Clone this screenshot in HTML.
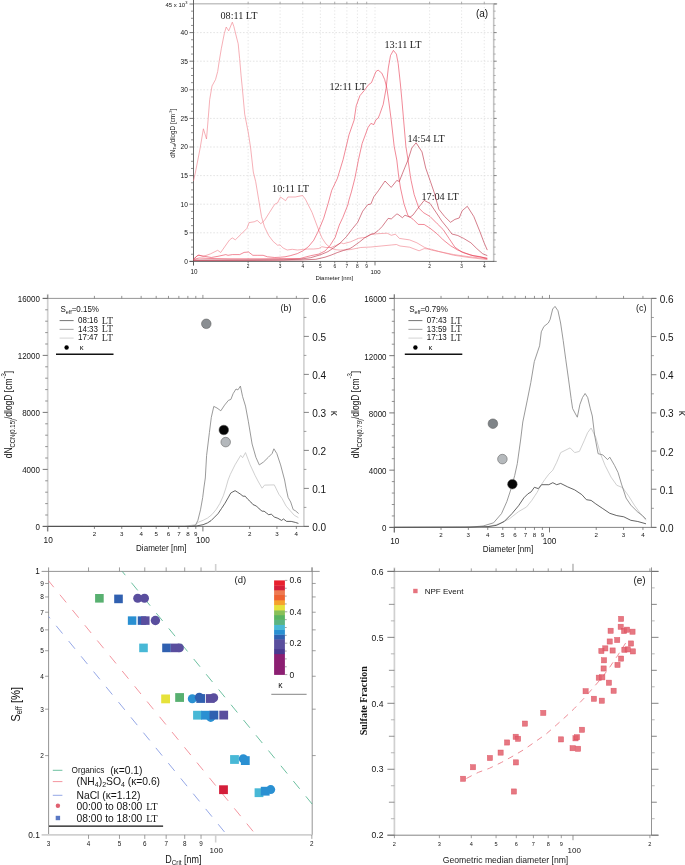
<!DOCTYPE html>
<html><head><meta charset="utf-8"><style>
html,body{margin:0;padding:0;background:#fff;}
body{width:685px;height:865px;overflow:hidden;font-family:"Liberation Sans",sans-serif;}
svg{display:block;will-change:transform;}
</style></head><body>
<svg width="685" height="865" viewBox="0 0 685 865">
<rect width="685" height="865" fill="#fff"/>
<line x1="193.5" y1="232.8" x2="493.7" y2="232.8" stroke="#d8d8d8" stroke-width="0.7" stroke-dasharray="1.6 1.7"/>
<line x1="193.5" y1="204.2" x2="493.7" y2="204.2" stroke="#d8d8d8" stroke-width="0.7" stroke-dasharray="1.6 1.7"/>
<line x1="193.5" y1="175.6" x2="493.7" y2="175.6" stroke="#d8d8d8" stroke-width="0.7" stroke-dasharray="1.6 1.7"/>
<line x1="193.5" y1="147" x2="493.7" y2="147" stroke="#d8d8d8" stroke-width="0.7" stroke-dasharray="1.6 1.7"/>
<line x1="193.5" y1="118.4" x2="493.7" y2="118.4" stroke="#d8d8d8" stroke-width="0.7" stroke-dasharray="1.6 1.7"/>
<line x1="193.5" y1="89.8" x2="493.7" y2="89.8" stroke="#d8d8d8" stroke-width="0.7" stroke-dasharray="1.6 1.7"/>
<line x1="193.5" y1="61.2" x2="493.7" y2="61.2" stroke="#d8d8d8" stroke-width="0.7" stroke-dasharray="1.6 1.7"/>
<line x1="193.5" y1="32.6" x2="493.7" y2="32.6" stroke="#d8d8d8" stroke-width="0.7" stroke-dasharray="1.6 1.7"/>
<line x1="248.14" y1="3.7" x2="248.14" y2="261.4" stroke="#d8d8d8" stroke-width="0.7" stroke-dasharray="1.2 2.1"/>
<line x1="280.1" y1="3.7" x2="280.1" y2="261.4" stroke="#d8d8d8" stroke-width="0.7" stroke-dasharray="1.2 2.1"/>
<line x1="302.77" y1="3.7" x2="302.77" y2="261.4" stroke="#d8d8d8" stroke-width="0.7" stroke-dasharray="1.2 2.1"/>
<line x1="320.36" y1="3.7" x2="320.36" y2="261.4" stroke="#d8d8d8" stroke-width="0.7" stroke-dasharray="1.2 2.1"/>
<line x1="334.73" y1="3.7" x2="334.73" y2="261.4" stroke="#d8d8d8" stroke-width="0.7" stroke-dasharray="1.2 2.1"/>
<line x1="346.89" y1="3.7" x2="346.89" y2="261.4" stroke="#d8d8d8" stroke-width="0.7" stroke-dasharray="1.2 2.1"/>
<line x1="357.41" y1="3.7" x2="357.41" y2="261.4" stroke="#d8d8d8" stroke-width="0.7" stroke-dasharray="1.2 2.1"/>
<line x1="366.7" y1="3.7" x2="366.7" y2="261.4" stroke="#d8d8d8" stroke-width="0.7" stroke-dasharray="1.2 2.1"/>
<line x1="375" y1="3.7" x2="375" y2="261.4" stroke="#d8d8d8" stroke-width="0.7" stroke-dasharray="1.2 2.1"/>
<line x1="429.64" y1="3.7" x2="429.64" y2="261.4" stroke="#d8d8d8" stroke-width="0.7" stroke-dasharray="1.2 2.1"/>
<line x1="461.6" y1="3.7" x2="461.6" y2="261.4" stroke="#d8d8d8" stroke-width="0.7" stroke-dasharray="1.2 2.1"/>
<line x1="484.27" y1="3.7" x2="484.27" y2="261.4" stroke="#d8d8d8" stroke-width="0.7" stroke-dasharray="1.2 2.1"/>
<line x1="193.5" y1="3.7" x2="497.2" y2="3.7" stroke="#c4c4c4" stroke-width="1.6" />
<line x1="493.7" y1="3.7" x2="493.7" y2="261.4" stroke="#c4c4c4" stroke-width="1.6" />
<line x1="193.5" y1="0" x2="193.5" y2="265.4" stroke="#555" stroke-width="0.9" />
<line x1="189.5" y1="261.4" x2="494.2" y2="261.4" stroke="#555" stroke-width="0.9" />
<line x1="189.5" y1="261.4" x2="193.5" y2="261.4" stroke="#555" stroke-width="0.8" />
<line x1="493.7" y1="261.4" x2="496.7" y2="261.4" stroke="#666" stroke-width="0.8" />
<line x1="191" y1="254.25" x2="193.5" y2="254.25" stroke="#666" stroke-width="0.7" />
<line x1="493.7" y1="254.25" x2="495.7" y2="254.25" stroke="#888" stroke-width="0.6" />
<line x1="191" y1="247.1" x2="193.5" y2="247.1" stroke="#666" stroke-width="0.7" />
<line x1="493.7" y1="247.1" x2="495.7" y2="247.1" stroke="#888" stroke-width="0.6" />
<line x1="191" y1="239.95" x2="193.5" y2="239.95" stroke="#666" stroke-width="0.7" />
<line x1="493.7" y1="239.95" x2="495.7" y2="239.95" stroke="#888" stroke-width="0.6" />
<line x1="189.5" y1="232.8" x2="193.5" y2="232.8" stroke="#555" stroke-width="0.8" />
<line x1="493.7" y1="232.8" x2="496.7" y2="232.8" stroke="#666" stroke-width="0.8" />
<line x1="191" y1="225.65" x2="193.5" y2="225.65" stroke="#666" stroke-width="0.7" />
<line x1="493.7" y1="225.65" x2="495.7" y2="225.65" stroke="#888" stroke-width="0.6" />
<line x1="191" y1="218.5" x2="193.5" y2="218.5" stroke="#666" stroke-width="0.7" />
<line x1="493.7" y1="218.5" x2="495.7" y2="218.5" stroke="#888" stroke-width="0.6" />
<line x1="191" y1="211.35" x2="193.5" y2="211.35" stroke="#666" stroke-width="0.7" />
<line x1="493.7" y1="211.35" x2="495.7" y2="211.35" stroke="#888" stroke-width="0.6" />
<line x1="189.5" y1="204.2" x2="193.5" y2="204.2" stroke="#555" stroke-width="0.8" />
<line x1="493.7" y1="204.2" x2="496.7" y2="204.2" stroke="#666" stroke-width="0.8" />
<line x1="191" y1="197.05" x2="193.5" y2="197.05" stroke="#666" stroke-width="0.7" />
<line x1="493.7" y1="197.05" x2="495.7" y2="197.05" stroke="#888" stroke-width="0.6" />
<line x1="191" y1="189.9" x2="193.5" y2="189.9" stroke="#666" stroke-width="0.7" />
<line x1="493.7" y1="189.9" x2="495.7" y2="189.9" stroke="#888" stroke-width="0.6" />
<line x1="191" y1="182.75" x2="193.5" y2="182.75" stroke="#666" stroke-width="0.7" />
<line x1="493.7" y1="182.75" x2="495.7" y2="182.75" stroke="#888" stroke-width="0.6" />
<line x1="189.5" y1="175.6" x2="193.5" y2="175.6" stroke="#555" stroke-width="0.8" />
<line x1="493.7" y1="175.6" x2="496.7" y2="175.6" stroke="#666" stroke-width="0.8" />
<line x1="191" y1="168.45" x2="193.5" y2="168.45" stroke="#666" stroke-width="0.7" />
<line x1="493.7" y1="168.45" x2="495.7" y2="168.45" stroke="#888" stroke-width="0.6" />
<line x1="191" y1="161.3" x2="193.5" y2="161.3" stroke="#666" stroke-width="0.7" />
<line x1="493.7" y1="161.3" x2="495.7" y2="161.3" stroke="#888" stroke-width="0.6" />
<line x1="191" y1="154.15" x2="193.5" y2="154.15" stroke="#666" stroke-width="0.7" />
<line x1="493.7" y1="154.15" x2="495.7" y2="154.15" stroke="#888" stroke-width="0.6" />
<line x1="189.5" y1="147" x2="193.5" y2="147" stroke="#555" stroke-width="0.8" />
<line x1="493.7" y1="147" x2="496.7" y2="147" stroke="#666" stroke-width="0.8" />
<line x1="191" y1="139.85" x2="193.5" y2="139.85" stroke="#666" stroke-width="0.7" />
<line x1="493.7" y1="139.85" x2="495.7" y2="139.85" stroke="#888" stroke-width="0.6" />
<line x1="191" y1="132.7" x2="193.5" y2="132.7" stroke="#666" stroke-width="0.7" />
<line x1="493.7" y1="132.7" x2="495.7" y2="132.7" stroke="#888" stroke-width="0.6" />
<line x1="191" y1="125.55" x2="193.5" y2="125.55" stroke="#666" stroke-width="0.7" />
<line x1="493.7" y1="125.55" x2="495.7" y2="125.55" stroke="#888" stroke-width="0.6" />
<line x1="189.5" y1="118.4" x2="193.5" y2="118.4" stroke="#555" stroke-width="0.8" />
<line x1="493.7" y1="118.4" x2="496.7" y2="118.4" stroke="#666" stroke-width="0.8" />
<line x1="191" y1="111.25" x2="193.5" y2="111.25" stroke="#666" stroke-width="0.7" />
<line x1="493.7" y1="111.25" x2="495.7" y2="111.25" stroke="#888" stroke-width="0.6" />
<line x1="191" y1="104.1" x2="193.5" y2="104.1" stroke="#666" stroke-width="0.7" />
<line x1="493.7" y1="104.1" x2="495.7" y2="104.1" stroke="#888" stroke-width="0.6" />
<line x1="191" y1="96.95" x2="193.5" y2="96.95" stroke="#666" stroke-width="0.7" />
<line x1="493.7" y1="96.95" x2="495.7" y2="96.95" stroke="#888" stroke-width="0.6" />
<line x1="189.5" y1="89.8" x2="193.5" y2="89.8" stroke="#555" stroke-width="0.8" />
<line x1="493.7" y1="89.8" x2="496.7" y2="89.8" stroke="#666" stroke-width="0.8" />
<line x1="191" y1="82.65" x2="193.5" y2="82.65" stroke="#666" stroke-width="0.7" />
<line x1="493.7" y1="82.65" x2="495.7" y2="82.65" stroke="#888" stroke-width="0.6" />
<line x1="191" y1="75.5" x2="193.5" y2="75.5" stroke="#666" stroke-width="0.7" />
<line x1="493.7" y1="75.5" x2="495.7" y2="75.5" stroke="#888" stroke-width="0.6" />
<line x1="191" y1="68.35" x2="193.5" y2="68.35" stroke="#666" stroke-width="0.7" />
<line x1="493.7" y1="68.35" x2="495.7" y2="68.35" stroke="#888" stroke-width="0.6" />
<line x1="189.5" y1="61.2" x2="193.5" y2="61.2" stroke="#555" stroke-width="0.8" />
<line x1="493.7" y1="61.2" x2="496.7" y2="61.2" stroke="#666" stroke-width="0.8" />
<line x1="191" y1="54.05" x2="193.5" y2="54.05" stroke="#666" stroke-width="0.7" />
<line x1="493.7" y1="54.05" x2="495.7" y2="54.05" stroke="#888" stroke-width="0.6" />
<line x1="191" y1="46.9" x2="193.5" y2="46.9" stroke="#666" stroke-width="0.7" />
<line x1="493.7" y1="46.9" x2="495.7" y2="46.9" stroke="#888" stroke-width="0.6" />
<line x1="191" y1="39.75" x2="193.5" y2="39.75" stroke="#666" stroke-width="0.7" />
<line x1="493.7" y1="39.75" x2="495.7" y2="39.75" stroke="#888" stroke-width="0.6" />
<line x1="189.5" y1="32.6" x2="193.5" y2="32.6" stroke="#555" stroke-width="0.8" />
<line x1="493.7" y1="32.6" x2="496.7" y2="32.6" stroke="#666" stroke-width="0.8" />
<line x1="191" y1="25.45" x2="193.5" y2="25.45" stroke="#666" stroke-width="0.7" />
<line x1="493.7" y1="25.45" x2="495.7" y2="25.45" stroke="#888" stroke-width="0.6" />
<line x1="191" y1="18.3" x2="193.5" y2="18.3" stroke="#666" stroke-width="0.7" />
<line x1="493.7" y1="18.3" x2="495.7" y2="18.3" stroke="#888" stroke-width="0.6" />
<line x1="191" y1="11.15" x2="193.5" y2="11.15" stroke="#666" stroke-width="0.7" />
<line x1="493.7" y1="11.15" x2="495.7" y2="11.15" stroke="#888" stroke-width="0.6" />
<line x1="189.5" y1="4" x2="193.5" y2="4" stroke="#555" stroke-width="0.8" />
<line x1="493.7" y1="4" x2="496.7" y2="4" stroke="#666" stroke-width="0.8" />
<line x1="193.5" y1="261.4" x2="193.5" y2="265.4" stroke="#555" stroke-width="0.8" />
<line x1="248.14" y1="261.4" x2="248.14" y2="263.4" stroke="#555" stroke-width="0.7" />
<line x1="248.14" y1="3.7" x2="248.14" y2="1.7" stroke="#777" stroke-width="0.6" />
<line x1="280.1" y1="261.4" x2="280.1" y2="263.4" stroke="#555" stroke-width="0.7" />
<line x1="280.1" y1="3.7" x2="280.1" y2="1.7" stroke="#777" stroke-width="0.6" />
<line x1="302.77" y1="261.4" x2="302.77" y2="263.4" stroke="#555" stroke-width="0.7" />
<line x1="302.77" y1="3.7" x2="302.77" y2="1.7" stroke="#777" stroke-width="0.6" />
<line x1="320.36" y1="261.4" x2="320.36" y2="263.4" stroke="#555" stroke-width="0.7" />
<line x1="320.36" y1="3.7" x2="320.36" y2="1.7" stroke="#777" stroke-width="0.6" />
<line x1="334.73" y1="261.4" x2="334.73" y2="263.4" stroke="#555" stroke-width="0.7" />
<line x1="334.73" y1="3.7" x2="334.73" y2="1.7" stroke="#777" stroke-width="0.6" />
<line x1="346.89" y1="261.4" x2="346.89" y2="263.4" stroke="#555" stroke-width="0.7" />
<line x1="346.89" y1="3.7" x2="346.89" y2="1.7" stroke="#777" stroke-width="0.6" />
<line x1="357.41" y1="261.4" x2="357.41" y2="263.4" stroke="#555" stroke-width="0.7" />
<line x1="357.41" y1="3.7" x2="357.41" y2="1.7" stroke="#777" stroke-width="0.6" />
<line x1="366.7" y1="261.4" x2="366.7" y2="263.4" stroke="#555" stroke-width="0.7" />
<line x1="366.7" y1="3.7" x2="366.7" y2="1.7" stroke="#777" stroke-width="0.6" />
<line x1="375" y1="261.4" x2="375" y2="265.4" stroke="#555" stroke-width="0.8" />
<line x1="429.64" y1="261.4" x2="429.64" y2="263.4" stroke="#555" stroke-width="0.7" />
<line x1="429.64" y1="3.7" x2="429.64" y2="1.7" stroke="#777" stroke-width="0.6" />
<line x1="461.6" y1="261.4" x2="461.6" y2="263.4" stroke="#555" stroke-width="0.7" />
<line x1="461.6" y1="3.7" x2="461.6" y2="1.7" stroke="#777" stroke-width="0.6" />
<line x1="484.27" y1="261.4" x2="484.27" y2="263.4" stroke="#555" stroke-width="0.7" />
<line x1="484.27" y1="3.7" x2="484.27" y2="1.7" stroke="#777" stroke-width="0.6" />
<text x="187.9" y="263.75" font-family="Liberation Sans" font-size="6.6" text-anchor="end" fill="#141414" >0</text>
<text x="187.9" y="235.15" font-family="Liberation Sans" font-size="6.6" text-anchor="end" fill="#141414" >5</text>
<text x="187.9" y="206.55" font-family="Liberation Sans" font-size="6.6" text-anchor="end" fill="#141414" >10</text>
<text x="187.9" y="177.95" font-family="Liberation Sans" font-size="6.6" text-anchor="end" fill="#141414" >15</text>
<text x="187.9" y="149.35" font-family="Liberation Sans" font-size="6.6" text-anchor="end" fill="#141414" >20</text>
<text x="187.9" y="120.75" font-family="Liberation Sans" font-size="6.6" text-anchor="end" fill="#141414" >25</text>
<text x="187.9" y="92.15" font-family="Liberation Sans" font-size="6.6" text-anchor="end" fill="#141414" >30</text>
<text x="187.9" y="63.55" font-family="Liberation Sans" font-size="6.6" text-anchor="end" fill="#141414" >35</text>
<text x="187.9" y="34.95" font-family="Liberation Sans" font-size="6.6" text-anchor="end" fill="#141414" >40</text>
<text x="165.4" y="7.4" font-family="Liberation Sans" font-size="6" text-anchor="start" fill="#141414" >45 x 10</text>
<text x="185.3" y="4.4" font-family="Liberation Sans" font-size="4" text-anchor="start" fill="#141414" >3</text>
<text x="194" y="273.6" font-family="Liberation Sans" font-size="6.3" text-anchor="middle" fill="#141414" >10</text>
<text x="375.5" y="273.6" font-family="Liberation Sans" font-size="6" text-anchor="middle" fill="#141414" >100</text>
<text x="248.14" y="268.3" font-family="Liberation Sans" font-size="4.8" text-anchor="middle" fill="#141414" >2</text>
<text x="280.1" y="268.3" font-family="Liberation Sans" font-size="4.8" text-anchor="middle" fill="#141414" >3</text>
<text x="302.77" y="268.3" font-family="Liberation Sans" font-size="4.8" text-anchor="middle" fill="#141414" >4</text>
<text x="320.36" y="268.3" font-family="Liberation Sans" font-size="4.8" text-anchor="middle" fill="#141414" >5</text>
<text x="334.73" y="268.3" font-family="Liberation Sans" font-size="4.8" text-anchor="middle" fill="#141414" >6</text>
<text x="346.89" y="268.3" font-family="Liberation Sans" font-size="4.8" text-anchor="middle" fill="#141414" >7</text>
<text x="357.41" y="268.3" font-family="Liberation Sans" font-size="4.8" text-anchor="middle" fill="#141414" >8</text>
<text x="366.7" y="268.3" font-family="Liberation Sans" font-size="4.8" text-anchor="middle" fill="#141414" >9</text>
<text x="429.64" y="268.3" font-family="Liberation Sans" font-size="4.8" text-anchor="middle" fill="#141414" >2</text>
<text x="461.6" y="268.3" font-family="Liberation Sans" font-size="4.8" text-anchor="middle" fill="#141414" >3</text>
<text x="484.27" y="268.3" font-family="Liberation Sans" font-size="4.8" text-anchor="middle" fill="#141414" >4</text>
<text x="334.3" y="279.8" font-family="Liberation Sans" font-size="6" text-anchor="middle" fill="#141414" >Diameter [nm]</text>
<text transform="translate(174.6,133.2) rotate(-90)" font-family="Liberation Sans" font-size="6.3" text-anchor="middle" fill="#141414">dN<tspan font-size="4.2" dy="1.2">Tot</tspan><tspan dy="-1.2">/dlogD [cm</tspan><tspan font-size="4" dy="-2.2">-3</tspan><tspan dy="2.2">]</tspan></text>
<text x="482" y="16.6" font-family="Liberation Sans" font-size="10" text-anchor="middle" fill="#141414" >(a)</text>
<text x="220.5" y="19.2" font-family="Liberation Serif" font-size="10.2" text-anchor="start" fill="#1a1a1a" >08:11 LT</text>
<text x="272.1" y="192.4" font-family="Liberation Serif" font-size="10.2" text-anchor="start" fill="#1a1a1a" >10:11 LT</text>
<text x="329.4" y="90.4" font-family="Liberation Serif" font-size="10.2" text-anchor="start" fill="#1a1a1a" >12:11 LT</text>
<text x="384.5" y="47.6" font-family="Liberation Serif" font-size="10.2" text-anchor="start" fill="#1a1a1a" >13:11 LT</text>
<text x="407.4" y="141.5" font-family="Liberation Serif" font-size="10.2" text-anchor="start" fill="#1a1a1a" >14:54 LT</text>
<text x="421.5" y="200.3" font-family="Liberation Serif" font-size="10.2" text-anchor="start" fill="#1a1a1a" >17:04 LT</text>
<path d="M193.5 181 L195.5 172 L200.2 147.8 L203.4 128.8 L206.5 139 L208.2 118.6 L209.7 99.6 L212 86 L215.5 79.6 L217.7 71.5 L219.2 61.3 L221.4 48.2 L224.3 33.6 L226.2 27 L228.7 30.9 L232.3 22.2 L233.8 26.3 L236.7 38 L238.2 43.8 L239.6 58.4 L241.1 75.9 L242.5 90 L244.7 114.2 L248.4 133.2 L250.6 147.8 L253.3 172 L255.7 181.7 L258.6 199.2 L261.5 216.7 L264.5 226.9 L268.8 235.7 L273.2 241.5 L277.6 245.2 L280 244.9 L283.1 248 L287.2 250 L292.3 249.3 L297.4 250 L302.5 249.5 L307.6 249 L313.7 249 L318.8 248.5 L321.9 246.7 L326 247.5 L331.1 247.5 L336 245.5 L341.3 242.9 L343.4 243.7 L350.4 241.9 L358.6 238.3 L365.8 237.3 L371.9 234.2 L378 233.7 L387.2 233.2 L391.3 235.3 L395.4 234.2 L399.4 238.4 L409.6 239.9 L416.9 242.8 L424.2 247.2 L431.5 250.1 L438.8 251.5 L453.4 254.5 L468 256.6 L487.3 258.8" fill="none" stroke="#f07a86" stroke-width="0.6" stroke-linejoin="round" />
<path d="M193.5 259.5 L197 256 L199 255 L203 256.5 L210.4 253.9 L217.7 250.3 L220.7 252.5 L229.4 240.1 L232.3 237.9 L235.3 239.8 L241.1 234.2 L246.9 228.4 L249.1 222.6 L254.2 221.8 L257.2 220.4 L260.8 223.7 L264.5 220.4 L269.6 212.3 L274.7 204.3 L277.6 202.8 L280.5 197 L285.6 200.7 L287.9 197 L295.2 197 L302.5 195.5 L305.4 199.2 L312 212.3 L318.6 229.9 L322 238 L326 244 L330.1 247.5 L334.6 249.6 L340.2 250.1 L350.4 249.6 L360.7 247.5 L370.9 247 L381.1 246 L391.3 245 L396.4 244.5 L400 246 L409.6 247.2 L419.1 250.8 L424.2 248.6 L431.5 249.3 L438.8 251.5 L453.4 255.2 L468 257.4 L487.3 259.6" fill="none" stroke="#f07a86" stroke-width="0.6" stroke-linejoin="round" />
<path d="M193.5 259 L198 255.2 L203 256 L211.3 257.5 L218 256.3 L225.8 254.6 L228 255.3 L232.4 254.6 L239.7 254.6 L244.1 252.4 L248.5 252 L252.9 255.3 L257.2 255.3 L263.1 255.3 L267.5 256.8 L274.8 257.5 L280.6 257.2 L285 256.8 L290.2 255.7 L297.4 253.6 L303.5 250.5 L308.6 246.5 L313.7 240.3 L317.8 232.2 L320.9 225 L323.7 218.2 L328.1 203.6 L331.7 190.4 L337.3 178.6 L343.1 159.6 L349 134.8 L354.1 120.2 L356.2 105.9 L359.9 95.7 L364.2 90.6 L368.6 84.7 L371.5 82.6 L375.9 71.6 L378.1 70.1 L381.8 73.1 L384.7 79.6 L386.9 88.4 L389 103 L391.2 119.9 L394.2 146.5 L396.8 160 L398.6 175.7 L400.5 188 L404 204 L408 215.7 L413.1 219.3 L418.2 224.4 L424.2 224.5 L430 228.2 L437.3 234 L443.2 239.9 L450.5 245.7 L457.8 250.1 L465.1 253 L473.8 255.9 L487.3 258.1" fill="none" stroke="#e83a52" stroke-width="0.6" stroke-linejoin="round" />
<path d="M193.5 259.5 L199 258 L212 258.5 L230 258.8 L260 258.8 L290 258.5 L300 258.5 L310.7 255.7 L318.8 254.1 L325 251 L330.1 245.4 L335.2 237.3 L339.3 225 L342.8 217.5 L347.8 205 L349 199.9 L351.4 191.9 L354.8 178.6 L358.5 159.6 L362.1 143.6 L368 127.5 L370.9 123.4 L373.8 124.6 L375.9 119.9 L378.2 118 L379.6 114.7 L383.2 104.5 L386.1 88.4 L388.3 68 L390.5 55.5 L393.4 50.4 L396.4 54.1 L398.2 63.6 L400.4 84 L401.9 100.1 L403.6 119.9 L405.9 146.5 L408 160 L410.3 175.7 L411.1 180.4 L414.2 194.7 L418.8 208 L423.4 212.6 L430 216.5 L437.3 223.8 L443.2 229.6 L449 238.4 L454.9 247.2 L462.2 252.3 L470.9 255.2 L479.7 256.6 L487.3 258.8" fill="none" stroke="#e83a52" stroke-width="0.6" stroke-linejoin="round" />
<path d="M193.5 260 L240 259.9 L283.8 259.8 L300 259.2 L310.7 257.7 L320.9 254.6 L328 251.6 L334.2 247.5 L340.3 242.9 L346.3 236.8 L352.5 228.6 L357.6 222.5 L362.7 211.2 L367.8 204.6 L370.9 204.1 L373.8 196.8 L378.4 190.7 L385 181 L391.2 187.4 L396.8 180.4 L399.3 181.5 L401.9 174.8 L405 167.2 L408 160 L411.8 148 L416.1 142.8 L422 151.9 L425.7 168 L430.8 182.6 L434.4 193.1 L438.8 209.2 L444.6 216.5 L450.5 222.3 L454.9 219.4 L459.2 218 L462.2 210.7 L467.3 206.3 L473.8 216.5 L479.7 231.1 L484.1 242.8 L487.3 250.1" fill="none" stroke="#b8283e" stroke-width="0.6" stroke-linejoin="round" />
<path d="M193.5 260.5 L250 260.4 L300 260 L315.8 259.3 L325 257.2 L331.1 255.1 L337.2 252.6 L343.4 250.5 L350 248.5 L352.5 247 L359.6 241.9 L364.7 237.8 L370.9 234.2 L373.9 233.7 L378 230.7 L382.1 226.6 L388.2 218.4 L391.3 218.9 L396.4 214.3 L397.8 214.2 L402.4 217.7 L405 215.2 L410 217.2 L413 215 L418.4 207.7 L424.2 200.4 L430 203.4 L435.9 212.1 L441.7 220.9 L447.6 228.2 L451.9 234 L457.8 235.5 L463.6 238.4 L470.9 242.8 L476.8 248.6 L482.6 253.7 L487.3 255.6" fill="none" stroke="#b8283e" stroke-width="0.6" stroke-linejoin="round" />
<line x1="47.7" y1="293.9" x2="47.7" y2="531.4" stroke="#d0d0d0" stroke-width="1.7" />
<line x1="303.9" y1="298.4" x2="303.9" y2="526.4" stroke="#d0d0d0" stroke-width="1.6" />
<line x1="42.7" y1="298.4" x2="303.9" y2="298.4" stroke="#8a8a8a" stroke-width="0.9" />
<line x1="42.7" y1="526.4" x2="308.9" y2="526.4" stroke="#666" stroke-width="0.9" />
<line x1="42.7" y1="526.4" x2="47.7" y2="526.4" stroke="#555" stroke-width="0.8" />
<line x1="45.2" y1="515" x2="47.7" y2="515" stroke="#666" stroke-width="0.7" />
<line x1="45.2" y1="503.6" x2="47.7" y2="503.6" stroke="#666" stroke-width="0.7" />
<line x1="45.2" y1="492.2" x2="47.7" y2="492.2" stroke="#666" stroke-width="0.7" />
<line x1="45.2" y1="480.8" x2="47.7" y2="480.8" stroke="#666" stroke-width="0.7" />
<line x1="42.7" y1="469.4" x2="47.7" y2="469.4" stroke="#555" stroke-width="0.8" />
<line x1="45.2" y1="458" x2="47.7" y2="458" stroke="#666" stroke-width="0.7" />
<line x1="45.2" y1="446.6" x2="47.7" y2="446.6" stroke="#666" stroke-width="0.7" />
<line x1="45.2" y1="435.2" x2="47.7" y2="435.2" stroke="#666" stroke-width="0.7" />
<line x1="45.2" y1="423.8" x2="47.7" y2="423.8" stroke="#666" stroke-width="0.7" />
<line x1="42.7" y1="412.4" x2="47.7" y2="412.4" stroke="#555" stroke-width="0.8" />
<line x1="45.2" y1="401" x2="47.7" y2="401" stroke="#666" stroke-width="0.7" />
<line x1="45.2" y1="389.6" x2="47.7" y2="389.6" stroke="#666" stroke-width="0.7" />
<line x1="45.2" y1="378.2" x2="47.7" y2="378.2" stroke="#666" stroke-width="0.7" />
<line x1="45.2" y1="366.8" x2="47.7" y2="366.8" stroke="#666" stroke-width="0.7" />
<line x1="42.7" y1="355.4" x2="47.7" y2="355.4" stroke="#555" stroke-width="0.8" />
<line x1="45.2" y1="344" x2="47.7" y2="344" stroke="#666" stroke-width="0.7" />
<line x1="45.2" y1="332.6" x2="47.7" y2="332.6" stroke="#666" stroke-width="0.7" />
<line x1="45.2" y1="321.2" x2="47.7" y2="321.2" stroke="#666" stroke-width="0.7" />
<line x1="45.2" y1="309.8" x2="47.7" y2="309.8" stroke="#666" stroke-width="0.7" />
<line x1="42.7" y1="298.4" x2="47.7" y2="298.4" stroke="#555" stroke-width="0.8" />
<line x1="303.9" y1="526.4" x2="308.9" y2="526.4" stroke="#666" stroke-width="0.8" />
<line x1="303.9" y1="507.4" x2="306.4" y2="507.4" stroke="#777" stroke-width="0.7" />
<line x1="303.9" y1="488.4" x2="308.9" y2="488.4" stroke="#666" stroke-width="0.8" />
<line x1="303.9" y1="469.4" x2="306.4" y2="469.4" stroke="#777" stroke-width="0.7" />
<line x1="303.9" y1="450.4" x2="308.9" y2="450.4" stroke="#666" stroke-width="0.8" />
<line x1="303.9" y1="431.4" x2="306.4" y2="431.4" stroke="#777" stroke-width="0.7" />
<line x1="303.9" y1="412.4" x2="308.9" y2="412.4" stroke="#666" stroke-width="0.8" />
<line x1="303.9" y1="393.4" x2="306.4" y2="393.4" stroke="#777" stroke-width="0.7" />
<line x1="303.9" y1="374.4" x2="308.9" y2="374.4" stroke="#666" stroke-width="0.8" />
<line x1="303.9" y1="355.4" x2="306.4" y2="355.4" stroke="#777" stroke-width="0.7" />
<line x1="303.9" y1="336.4" x2="308.9" y2="336.4" stroke="#666" stroke-width="0.8" />
<line x1="303.9" y1="317.4" x2="306.4" y2="317.4" stroke="#777" stroke-width="0.7" />
<line x1="303.9" y1="298.4" x2="308.9" y2="298.4" stroke="#666" stroke-width="0.8" />
<line x1="47.7" y1="526.4" x2="47.7" y2="531.4" stroke="#555" stroke-width="0.8" />
<line x1="47.7" y1="298.4" x2="47.7" y2="294.9" stroke="#666" stroke-width="0.7" />
<line x1="94.42" y1="526.4" x2="94.42" y2="528.9" stroke="#555" stroke-width="0.7" />
<line x1="94.42" y1="298.4" x2="94.42" y2="295.9" stroke="#666" stroke-width="0.7" />
<line x1="121.75" y1="526.4" x2="121.75" y2="528.9" stroke="#555" stroke-width="0.7" />
<line x1="121.75" y1="298.4" x2="121.75" y2="295.9" stroke="#666" stroke-width="0.7" />
<line x1="141.14" y1="526.4" x2="141.14" y2="528.9" stroke="#555" stroke-width="0.7" />
<line x1="141.14" y1="298.4" x2="141.14" y2="295.9" stroke="#666" stroke-width="0.7" />
<line x1="156.18" y1="526.4" x2="156.18" y2="528.9" stroke="#555" stroke-width="0.7" />
<line x1="156.18" y1="298.4" x2="156.18" y2="295.9" stroke="#666" stroke-width="0.7" />
<line x1="168.47" y1="526.4" x2="168.47" y2="528.9" stroke="#555" stroke-width="0.7" />
<line x1="168.47" y1="298.4" x2="168.47" y2="295.9" stroke="#666" stroke-width="0.7" />
<line x1="178.86" y1="526.4" x2="178.86" y2="528.9" stroke="#555" stroke-width="0.7" />
<line x1="178.86" y1="298.4" x2="178.86" y2="295.9" stroke="#666" stroke-width="0.7" />
<line x1="187.86" y1="526.4" x2="187.86" y2="528.9" stroke="#555" stroke-width="0.7" />
<line x1="187.86" y1="298.4" x2="187.86" y2="295.9" stroke="#666" stroke-width="0.7" />
<line x1="195.8" y1="526.4" x2="195.8" y2="528.9" stroke="#555" stroke-width="0.7" />
<line x1="195.8" y1="298.4" x2="195.8" y2="295.9" stroke="#666" stroke-width="0.7" />
<line x1="202.9" y1="526.4" x2="202.9" y2="531.4" stroke="#555" stroke-width="0.8" />
<line x1="202.9" y1="298.4" x2="202.9" y2="294.9" stroke="#666" stroke-width="0.7" />
<line x1="249.62" y1="526.4" x2="249.62" y2="528.9" stroke="#555" stroke-width="0.7" />
<line x1="249.62" y1="298.4" x2="249.62" y2="295.9" stroke="#666" stroke-width="0.7" />
<line x1="276.95" y1="526.4" x2="276.95" y2="528.9" stroke="#555" stroke-width="0.7" />
<line x1="276.95" y1="298.4" x2="276.95" y2="295.9" stroke="#666" stroke-width="0.7" />
<line x1="296.34" y1="526.4" x2="296.34" y2="528.9" stroke="#555" stroke-width="0.7" />
<line x1="296.34" y1="298.4" x2="296.34" y2="295.9" stroke="#666" stroke-width="0.7" />
<text transform="translate(39.9,530.3) scale(0.83,1)" font-family="Liberation Sans" font-size="9.6" text-anchor="end" fill="#141414" >0</text>
<text transform="translate(39.9,473.3) scale(0.83,1)" font-family="Liberation Sans" font-size="9.6" text-anchor="end" fill="#141414" >4000</text>
<text transform="translate(39.9,416.3) scale(0.83,1)" font-family="Liberation Sans" font-size="9.6" text-anchor="end" fill="#141414" >8000</text>
<text transform="translate(39.9,359.3) scale(0.83,1)" font-family="Liberation Sans" font-size="9.6" text-anchor="end" fill="#141414" >12000</text>
<text transform="translate(39.9,302.3) scale(0.83,1)" font-family="Liberation Sans" font-size="9.6" text-anchor="end" fill="#141414" >16000</text>
<text x="312.2" y="530.9" font-family="Liberation Sans" font-size="10" text-anchor="start" fill="#141414" >0.0</text>
<text x="312.2" y="492.9" font-family="Liberation Sans" font-size="10" text-anchor="start" fill="#141414" >0.1</text>
<text x="312.2" y="454.9" font-family="Liberation Sans" font-size="10" text-anchor="start" fill="#141414" >0.2</text>
<text x="312.2" y="416.9" font-family="Liberation Sans" font-size="10" text-anchor="start" fill="#141414" >0.3</text>
<text x="312.2" y="378.9" font-family="Liberation Sans" font-size="10" text-anchor="start" fill="#141414" >0.4</text>
<text x="312.2" y="340.9" font-family="Liberation Sans" font-size="10" text-anchor="start" fill="#141414" >0.5</text>
<text x="312.2" y="302.9" font-family="Liberation Sans" font-size="10" text-anchor="start" fill="#141414" >0.6</text>
<text x="48.2" y="543.2" font-family="Liberation Sans" font-size="8.3" text-anchor="middle" fill="#141414" >10</text>
<text x="202.9" y="542.5" font-family="Liberation Sans" font-size="8.2" text-anchor="middle" fill="#141414" >100</text>
<text x="94.42" y="535.6" font-family="Liberation Sans" font-size="6.2" text-anchor="middle" fill="#141414" >2</text>
<text x="121.75" y="535.6" font-family="Liberation Sans" font-size="6.2" text-anchor="middle" fill="#141414" >3</text>
<text x="141.14" y="535.6" font-family="Liberation Sans" font-size="6.2" text-anchor="middle" fill="#141414" >4</text>
<text x="156.18" y="535.6" font-family="Liberation Sans" font-size="6.2" text-anchor="middle" fill="#141414" >5</text>
<text x="168.47" y="535.6" font-family="Liberation Sans" font-size="6.2" text-anchor="middle" fill="#141414" >6</text>
<text x="178.86" y="535.6" font-family="Liberation Sans" font-size="6.2" text-anchor="middle" fill="#141414" >7</text>
<text x="187.86" y="535.6" font-family="Liberation Sans" font-size="6.2" text-anchor="middle" fill="#141414" >8</text>
<text x="195.8" y="535.6" font-family="Liberation Sans" font-size="6.2" text-anchor="middle" fill="#141414" >9</text>
<text x="249.62" y="535.6" font-family="Liberation Sans" font-size="6.2" text-anchor="middle" fill="#141414" >2</text>
<text x="276.95" y="535.6" font-family="Liberation Sans" font-size="6.2" text-anchor="middle" fill="#141414" >3</text>
<text x="296.34" y="535.6" font-family="Liberation Sans" font-size="6.2" text-anchor="middle" fill="#141414" >4</text>
<text transform="translate(161.3,550.8) scale(0.876,1)" font-family="Liberation Sans" font-size="9.2" text-anchor="middle" fill="#141414" >Diameter [nm]</text>
<text transform="translate(12.3,414.6) rotate(-90) scale(0.85,1)" font-family="Liberation Sans" font-size="10" text-anchor="middle" fill="#141414">dN<tspan font-size="7" dy="2.8">CCN(0.15)</tspan><tspan dy="-2.8">/dlogD [cm</tspan><tspan font-size="7" dy="-6.8">-3</tspan><tspan dy="6.8">]</tspan></text>
<text transform="translate(331.3,413.2) rotate(90)" font-family="Liberation Sans" font-size="10" text-anchor="middle" fill="#141414">κ</text>
<text x="286" y="311.2" font-family="Liberation Sans" font-size="9" text-anchor="middle" fill="#141414" >(b)</text>
<text transform="translate(60.4,312.4) scale(0.9,1)" font-family="Liberation Sans" font-size="8.9" fill="#141414">S<tspan font-size="6" dy="1.8">eff</tspan><tspan dy="-1.8">=0.15%</tspan></text>
<line x1="59.6" y1="320.6" x2="73.6" y2="320.6" stroke="#505050" stroke-width="0.8" />
<text transform="translate(78,322.9) scale(0.9,1)" font-family="Liberation Sans" font-size="8.9" fill="#141414">08:16</text>
<text x="101.8" y="323.6" font-family="Liberation Serif" font-size="10" text-anchor="start" fill="#333" >LT</text>
<line x1="59.6" y1="329.35" x2="73.6" y2="329.35" stroke="#8a8a8a" stroke-width="0.8" />
<text transform="translate(78,331.65) scale(0.9,1)" font-family="Liberation Sans" font-size="8.9" fill="#141414">14:33</text>
<text x="101.8" y="332.35" font-family="Liberation Serif" font-size="10" text-anchor="start" fill="#333" >LT</text>
<line x1="59.6" y1="338.1" x2="73.6" y2="338.1" stroke="#c8c8c8" stroke-width="0.8" />
<text transform="translate(78,340.4) scale(0.9,1)" font-family="Liberation Sans" font-size="8.9" fill="#141414">17:47</text>
<text x="101.8" y="341.1" font-family="Liberation Serif" font-size="10" text-anchor="start" fill="#333" >LT</text>
<circle cx="66.6" cy="347.5" r="2.2" fill="#000"/>
<text x="79.7" y="350" font-family="Liberation Sans" font-size="7.5" text-anchor="start" fill="#141414" >κ</text>
<line x1="56" y1="354.3" x2="113.5" y2="354.3" stroke="#111" stroke-width="1.6" />
<path d="M47.7 526.4 L185 526.3 L195.3 524.7 L198.8 522 L203.1 520.3 L207.5 518.1 L211.9 514.6 L216.3 509.3 L219.8 503.6 L223.3 495.8 L225.9 487.9 L228.1 480 L230.3 474.4 L235 464.9 L240.7 455.4 L242.6 457.7 L245.5 452.6 L250.2 464.9 L255 475.3 L258.5 482 L262.1 488.2 L264.6 485.1 L274.3 484.9 L278.9 494.3 L282 498.4 L286.1 506.1 L290.2 510.7 L294.3 515.3 L298.4 517.6" fill="none" stroke="#c4c4c4" stroke-width="0.8" stroke-linejoin="round" />
<path d="M47.7 526.4 L185 526.3 L191.4 526 L195.3 525.6 L197.9 520.3 L200.5 509.8 L202.7 497.5 L204 487 L205.3 478 L206.6 455.4 L209.4 432.6 L211.3 417.4 L213.8 406.4 L217 408 L220.8 410.8 L224.6 405.1 L228.4 400.4 L230.9 399.4 L233.1 393.7 L236 389 L237.9 389.9 L240.4 386.1 L242.6 396.6 L245.5 406.1 L248.3 421.2 L252.1 444 L255.9 457.3 L259.3 464.9 L263.5 462 L268.3 457.3 L272.1 453.5 L273.9 448.8 L276.8 453.5 L280.6 464.9 L284.6 480 L286.1 488.2 L288.1 497.4 L290.7 502 L293.2 509.6 L295.3 510.7 L298.6 513.5" fill="none" stroke="#808080" stroke-width="0.8" stroke-linejoin="round" />
<path d="M47.7 526.4 L190 526.4 L195.3 526.2 L203.1 524.7 L207.5 522.9 L211 520.7 L214.5 517.2 L218 513.7 L221.5 508.5 L225 503.2 L228.5 497.1 L230.7 493.1 L232.9 491.8 L235.1 490.7 L237.7 492.3 L240.8 494.4 L243 496.2 L245.2 496.2 L247.8 499.3 L250.8 502 L252.9 504.5 L256.5 506.1 L259.5 509.1 L262.1 511.2 L264.1 511.2 L266.7 513.2 L268.7 514.7 L271.3 514.2 L274.3 517 L277.9 518.3 L281.5 520.4 L283.5 519 L286.6 521.4 L291.2 521.4 L295.3 522.4 L298.4 523.4" fill="none" stroke="#3c3c3c" stroke-width="0.8" stroke-linejoin="round" />
<circle cx="206.3" cy="323.8" r="4.8" fill="#8a8e92" stroke="#555" stroke-width="0.5"/>
<circle cx="223.8" cy="430" r="4.8" fill="#050505" stroke="#555" stroke-width="0.5"/>
<circle cx="225.7" cy="442.1" r="4.8" fill="#b4b8bc" stroke="#555" stroke-width="0.5"/>
<line x1="394.3" y1="293.9" x2="394.3" y2="532.4" stroke="#999" stroke-width="1.1" />
<line x1="651.4" y1="298.4" x2="651.4" y2="527.4" stroke="#999" stroke-width="1.1" />
<line x1="389.3" y1="298.4" x2="656.4" y2="298.4" stroke="#888" stroke-width="0.9" />
<line x1="389.3" y1="527.4" x2="656.4" y2="527.4" stroke="#777" stroke-width="0.9" />
<line x1="389.3" y1="527.4" x2="394.3" y2="527.4" stroke="#555" stroke-width="0.8" />
<line x1="391.8" y1="515.95" x2="394.3" y2="515.95" stroke="#666" stroke-width="0.7" />
<line x1="391.8" y1="504.5" x2="394.3" y2="504.5" stroke="#666" stroke-width="0.7" />
<line x1="391.8" y1="493.05" x2="394.3" y2="493.05" stroke="#666" stroke-width="0.7" />
<line x1="391.8" y1="481.6" x2="394.3" y2="481.6" stroke="#666" stroke-width="0.7" />
<line x1="389.3" y1="470.15" x2="394.3" y2="470.15" stroke="#555" stroke-width="0.8" />
<line x1="391.8" y1="458.7" x2="394.3" y2="458.7" stroke="#666" stroke-width="0.7" />
<line x1="391.8" y1="447.25" x2="394.3" y2="447.25" stroke="#666" stroke-width="0.7" />
<line x1="391.8" y1="435.8" x2="394.3" y2="435.8" stroke="#666" stroke-width="0.7" />
<line x1="391.8" y1="424.35" x2="394.3" y2="424.35" stroke="#666" stroke-width="0.7" />
<line x1="389.3" y1="412.9" x2="394.3" y2="412.9" stroke="#555" stroke-width="0.8" />
<line x1="391.8" y1="401.45" x2="394.3" y2="401.45" stroke="#666" stroke-width="0.7" />
<line x1="391.8" y1="390" x2="394.3" y2="390" stroke="#666" stroke-width="0.7" />
<line x1="391.8" y1="378.55" x2="394.3" y2="378.55" stroke="#666" stroke-width="0.7" />
<line x1="391.8" y1="367.1" x2="394.3" y2="367.1" stroke="#666" stroke-width="0.7" />
<line x1="389.3" y1="355.65" x2="394.3" y2="355.65" stroke="#555" stroke-width="0.8" />
<line x1="391.8" y1="344.2" x2="394.3" y2="344.2" stroke="#666" stroke-width="0.7" />
<line x1="391.8" y1="332.75" x2="394.3" y2="332.75" stroke="#666" stroke-width="0.7" />
<line x1="391.8" y1="321.3" x2="394.3" y2="321.3" stroke="#666" stroke-width="0.7" />
<line x1="391.8" y1="309.85" x2="394.3" y2="309.85" stroke="#666" stroke-width="0.7" />
<line x1="389.3" y1="298.4" x2="394.3" y2="298.4" stroke="#555" stroke-width="0.8" />
<line x1="651.4" y1="527.4" x2="656.4" y2="527.4" stroke="#666" stroke-width="0.8" />
<line x1="651.4" y1="508.32" x2="653.9" y2="508.32" stroke="#777" stroke-width="0.7" />
<line x1="651.4" y1="489.23" x2="656.4" y2="489.23" stroke="#666" stroke-width="0.8" />
<line x1="651.4" y1="470.15" x2="653.9" y2="470.15" stroke="#777" stroke-width="0.7" />
<line x1="651.4" y1="451.07" x2="656.4" y2="451.07" stroke="#666" stroke-width="0.8" />
<line x1="651.4" y1="431.98" x2="653.9" y2="431.98" stroke="#777" stroke-width="0.7" />
<line x1="651.4" y1="412.9" x2="656.4" y2="412.9" stroke="#666" stroke-width="0.8" />
<line x1="651.4" y1="393.82" x2="653.9" y2="393.82" stroke="#777" stroke-width="0.7" />
<line x1="651.4" y1="374.73" x2="656.4" y2="374.73" stroke="#666" stroke-width="0.8" />
<line x1="651.4" y1="355.65" x2="653.9" y2="355.65" stroke="#777" stroke-width="0.7" />
<line x1="651.4" y1="336.57" x2="656.4" y2="336.57" stroke="#666" stroke-width="0.8" />
<line x1="651.4" y1="317.48" x2="653.9" y2="317.48" stroke="#777" stroke-width="0.7" />
<line x1="651.4" y1="298.4" x2="656.4" y2="298.4" stroke="#666" stroke-width="0.8" />
<line x1="394.3" y1="527.4" x2="394.3" y2="532.4" stroke="#555" stroke-width="0.8" />
<line x1="394.3" y1="298.4" x2="394.3" y2="294.9" stroke="#666" stroke-width="0.7" />
<line x1="441.02" y1="527.4" x2="441.02" y2="529.9" stroke="#555" stroke-width="0.7" />
<line x1="441.02" y1="298.4" x2="441.02" y2="295.9" stroke="#666" stroke-width="0.7" />
<line x1="468.35" y1="527.4" x2="468.35" y2="529.9" stroke="#555" stroke-width="0.7" />
<line x1="468.35" y1="298.4" x2="468.35" y2="295.9" stroke="#666" stroke-width="0.7" />
<line x1="487.74" y1="527.4" x2="487.74" y2="529.9" stroke="#555" stroke-width="0.7" />
<line x1="487.74" y1="298.4" x2="487.74" y2="295.9" stroke="#666" stroke-width="0.7" />
<line x1="502.78" y1="527.4" x2="502.78" y2="529.9" stroke="#555" stroke-width="0.7" />
<line x1="502.78" y1="298.4" x2="502.78" y2="295.9" stroke="#666" stroke-width="0.7" />
<line x1="515.07" y1="527.4" x2="515.07" y2="529.9" stroke="#555" stroke-width="0.7" />
<line x1="515.07" y1="298.4" x2="515.07" y2="295.9" stroke="#666" stroke-width="0.7" />
<line x1="525.46" y1="527.4" x2="525.46" y2="529.9" stroke="#555" stroke-width="0.7" />
<line x1="525.46" y1="298.4" x2="525.46" y2="295.9" stroke="#666" stroke-width="0.7" />
<line x1="534.46" y1="527.4" x2="534.46" y2="529.9" stroke="#555" stroke-width="0.7" />
<line x1="534.46" y1="298.4" x2="534.46" y2="295.9" stroke="#666" stroke-width="0.7" />
<line x1="542.4" y1="527.4" x2="542.4" y2="529.9" stroke="#555" stroke-width="0.7" />
<line x1="542.4" y1="298.4" x2="542.4" y2="295.9" stroke="#666" stroke-width="0.7" />
<line x1="549.5" y1="527.4" x2="549.5" y2="532.4" stroke="#555" stroke-width="0.8" />
<line x1="549.5" y1="298.4" x2="549.5" y2="294.9" stroke="#666" stroke-width="0.7" />
<line x1="596.22" y1="527.4" x2="596.22" y2="529.9" stroke="#555" stroke-width="0.7" />
<line x1="596.22" y1="298.4" x2="596.22" y2="295.9" stroke="#666" stroke-width="0.7" />
<line x1="623.55" y1="527.4" x2="623.55" y2="529.9" stroke="#555" stroke-width="0.7" />
<line x1="623.55" y1="298.4" x2="623.55" y2="295.9" stroke="#666" stroke-width="0.7" />
<line x1="642.94" y1="527.4" x2="642.94" y2="529.9" stroke="#555" stroke-width="0.7" />
<line x1="642.94" y1="298.4" x2="642.94" y2="295.9" stroke="#666" stroke-width="0.7" />
<text transform="translate(386.5,531.3) scale(0.83,1)" font-family="Liberation Sans" font-size="9.6" text-anchor="end" fill="#141414" >0</text>
<text transform="translate(386.5,474.05) scale(0.83,1)" font-family="Liberation Sans" font-size="9.6" text-anchor="end" fill="#141414" >4000</text>
<text transform="translate(386.5,416.8) scale(0.83,1)" font-family="Liberation Sans" font-size="9.6" text-anchor="end" fill="#141414" >8000</text>
<text transform="translate(386.5,359.55) scale(0.83,1)" font-family="Liberation Sans" font-size="9.6" text-anchor="end" fill="#141414" >12000</text>
<text transform="translate(386.5,302.3) scale(0.83,1)" font-family="Liberation Sans" font-size="9.6" text-anchor="end" fill="#141414" >16000</text>
<text x="659.7" y="531.9" font-family="Liberation Sans" font-size="10" text-anchor="start" fill="#141414" >0.0</text>
<text x="659.7" y="493.73" font-family="Liberation Sans" font-size="10" text-anchor="start" fill="#141414" >0.1</text>
<text x="659.7" y="455.57" font-family="Liberation Sans" font-size="10" text-anchor="start" fill="#141414" >0.2</text>
<text x="659.7" y="417.4" font-family="Liberation Sans" font-size="10" text-anchor="start" fill="#141414" >0.3</text>
<text x="659.7" y="379.23" font-family="Liberation Sans" font-size="10" text-anchor="start" fill="#141414" >0.4</text>
<text x="659.7" y="341.07" font-family="Liberation Sans" font-size="10" text-anchor="start" fill="#141414" >0.5</text>
<text x="659.7" y="302.9" font-family="Liberation Sans" font-size="10" text-anchor="start" fill="#141414" >0.6</text>
<text x="394.8" y="544.2" font-family="Liberation Sans" font-size="8.3" text-anchor="middle" fill="#141414" >10</text>
<text x="549.5" y="543.5" font-family="Liberation Sans" font-size="8.2" text-anchor="middle" fill="#141414" >100</text>
<text x="441.02" y="536.6" font-family="Liberation Sans" font-size="6.2" text-anchor="middle" fill="#141414" >2</text>
<text x="468.35" y="536.6" font-family="Liberation Sans" font-size="6.2" text-anchor="middle" fill="#141414" >3</text>
<text x="487.74" y="536.6" font-family="Liberation Sans" font-size="6.2" text-anchor="middle" fill="#141414" >4</text>
<text x="502.78" y="536.6" font-family="Liberation Sans" font-size="6.2" text-anchor="middle" fill="#141414" >5</text>
<text x="515.07" y="536.6" font-family="Liberation Sans" font-size="6.2" text-anchor="middle" fill="#141414" >6</text>
<text x="525.46" y="536.6" font-family="Liberation Sans" font-size="6.2" text-anchor="middle" fill="#141414" >7</text>
<text x="534.46" y="536.6" font-family="Liberation Sans" font-size="6.2" text-anchor="middle" fill="#141414" >8</text>
<text x="542.4" y="536.6" font-family="Liberation Sans" font-size="6.2" text-anchor="middle" fill="#141414" >9</text>
<text x="596.22" y="536.6" font-family="Liberation Sans" font-size="6.2" text-anchor="middle" fill="#141414" >2</text>
<text x="623.55" y="536.6" font-family="Liberation Sans" font-size="6.2" text-anchor="middle" fill="#141414" >3</text>
<text x="642.94" y="536.6" font-family="Liberation Sans" font-size="6.2" text-anchor="middle" fill="#141414" >4</text>
<text transform="translate(507.9,551.8) scale(0.876,1)" font-family="Liberation Sans" font-size="9.2" text-anchor="middle" fill="#141414" >Diameter [nm]</text>
<text transform="translate(358.9,414.6) rotate(-90) scale(0.85,1)" font-family="Liberation Sans" font-size="10" text-anchor="middle" fill="#141414">dN<tspan font-size="7" dy="2.8">CCN(0.79)</tspan><tspan dy="-2.8">/dlogD [cm</tspan><tspan font-size="7" dy="-6.8">-3</tspan><tspan dy="6.8">]</tspan></text>
<text transform="translate(678.8,413.2) rotate(90)" font-family="Liberation Sans" font-size="10" text-anchor="middle" fill="#141414">κ</text>
<text x="641.2" y="311.2" font-family="Liberation Sans" font-size="9" text-anchor="middle" fill="#141414" >(c)</text>
<text transform="translate(409.2,312.4) scale(0.9,1)" font-family="Liberation Sans" font-size="8.9" fill="#141414">S<tspan font-size="6" dy="1.8">eff</tspan><tspan dy="-1.8">=0.79%</tspan></text>
<line x1="408.4" y1="320.6" x2="422.4" y2="320.6" stroke="#505050" stroke-width="0.8" />
<text transform="translate(426.8,322.9) scale(0.9,1)" font-family="Liberation Sans" font-size="8.9" fill="#141414">07:43</text>
<text x="450.6" y="323.6" font-family="Liberation Serif" font-size="10" text-anchor="start" fill="#333" >LT</text>
<line x1="408.4" y1="329.35" x2="422.4" y2="329.35" stroke="#8a8a8a" stroke-width="0.8" />
<text transform="translate(426.8,331.65) scale(0.9,1)" font-family="Liberation Sans" font-size="8.9" fill="#141414">13:59</text>
<text x="450.6" y="332.35" font-family="Liberation Serif" font-size="10" text-anchor="start" fill="#333" >LT</text>
<line x1="408.4" y1="338.1" x2="422.4" y2="338.1" stroke="#c8c8c8" stroke-width="0.8" />
<text transform="translate(426.8,340.4) scale(0.9,1)" font-family="Liberation Sans" font-size="8.9" fill="#141414">17:13</text>
<text x="450.6" y="341.1" font-family="Liberation Serif" font-size="10" text-anchor="start" fill="#333" >LT</text>
<circle cx="415.4" cy="347.5" r="2.2" fill="#000"/>
<text x="428.5" y="350" font-family="Liberation Sans" font-size="7.5" text-anchor="start" fill="#141414" >κ</text>
<line x1="404.8" y1="354.3" x2="462.3" y2="354.3" stroke="#111" stroke-width="1.6" />
<path d="M393.8 527.3 L480 527.2 L490 526.3 L500 523.5 L509.4 518.8 L518.6 511.6 L526.5 507 L531.8 500.4 L537 492.5 L540.9 485.3 L544.9 479.4 L548.8 474.2 L552.8 470.2 L556.7 462.3 L560.7 452.6 L570.1 447.9 L574.7 452.6 L579.4 451.4 L584.1 440.9 L587.6 432.7 L591.1 428 L595.8 437.4 L600.4 453.7 L605.1 465.4 L611 477.1 L616.8 485.3 L622.6 487.6 L628.5 495.8 L634.3 505.1 L640.2 513.3 L646 520.3" fill="none" stroke="#c4c4c4" stroke-width="0.8" stroke-linejoin="round" />
<path d="M393.8 527.3 L465 527.1 L475 526.7 L483.1 526 L493.6 522.8 L501.5 513.6 L506.8 501.7 L510.7 489.9 L514.7 475.5 L517.3 463.6 L520.6 440 L522.8 422 L527.3 400.1 L530.8 382.6 L534.3 361.6 L537.8 351.1 L539.6 345.8 L541.3 331.8 L543.9 326.5 L548.3 323 L550.1 319.5 L552.7 309 L555 306.4 L558 310.8 L560.6 323 L563.2 340.5 L565.8 359.8 L568.5 379.1 L571.1 398.4 L572.6 408.5 L575.5 414 L577.3 417.2 L579.9 404.5 L582.5 397.5 L585.1 393.5 L587.7 397.5 L590.4 408.9 L592.3 416 L594.6 435 L598.1 453.7 L602.8 454.9 L607.5 459.6 L609.8 457.2 L614.5 465.4 L618 472.4 L621.5 484.1 L626.1 498.1 L630.8 505.1 L637.8 512.1 L642.5 515.6 L646 519.1" fill="none" stroke="#808080" stroke-width="0.8" stroke-linejoin="round" />
<path d="M393.8 527.3 L470 527.2 L488 526.6 L496.3 525.4 L504.2 521.5 L512 513.6 L518.6 505.7 L523.9 497.8 L527.8 493.9 L531.1 491.9 L534.4 487.3 L538.3 488.6 L541.6 484.7 L548.8 484.7 L552.8 482.7 L556.7 484.7 L560.7 483.4 L567.7 486.9 L574.7 489.9 L581.8 494.6 L586.4 499.7 L591.1 500.4 L595.8 503.9 L602.8 508.6 L609.8 513.3 L616.8 515.6 L623.8 516.8 L630.8 520.3 L637.8 521.5 L646 523.8" fill="none" stroke="#3c3c3c" stroke-width="0.8" stroke-linejoin="round" />
<circle cx="492.9" cy="423.7" r="4.8" fill="#7e8387" stroke="#555" stroke-width="0.5"/>
<circle cx="502.4" cy="459.1" r="4.8" fill="#b5b9bc" stroke="#555" stroke-width="0.5"/>
<circle cx="512.4" cy="484.2" r="4.8" fill="#050505" stroke="#555" stroke-width="0.5"/>
<line x1="48.6" y1="567.4" x2="48.6" y2="834.9" stroke="#888" stroke-width="0.9" />
<line x1="41.6" y1="571.4" x2="319.7" y2="571.4" stroke="#888" stroke-width="0.9" />
<line x1="312.2" y1="567.4" x2="312.2" y2="834.9" stroke="#888" stroke-width="0.9" />
<line x1="41.6" y1="834.9" x2="312.2" y2="834.9" stroke="#d0d0d0" stroke-width="1.7" />
<line x1="45.1" y1="755.58" x2="48.6" y2="755.58" stroke="#777" stroke-width="0.7" />
<line x1="312.2" y1="755.58" x2="315.7" y2="755.58" stroke="#777" stroke-width="0.7" />
<line x1="45.1" y1="709.18" x2="48.6" y2="709.18" stroke="#777" stroke-width="0.7" />
<line x1="312.2" y1="709.18" x2="315.7" y2="709.18" stroke="#777" stroke-width="0.7" />
<line x1="45.1" y1="676.26" x2="48.6" y2="676.26" stroke="#777" stroke-width="0.7" />
<line x1="312.2" y1="676.26" x2="315.7" y2="676.26" stroke="#777" stroke-width="0.7" />
<line x1="45.1" y1="650.72" x2="48.6" y2="650.72" stroke="#777" stroke-width="0.7" />
<line x1="312.2" y1="650.72" x2="315.7" y2="650.72" stroke="#777" stroke-width="0.7" />
<line x1="45.1" y1="629.86" x2="48.6" y2="629.86" stroke="#777" stroke-width="0.7" />
<line x1="312.2" y1="629.86" x2="315.7" y2="629.86" stroke="#777" stroke-width="0.7" />
<line x1="45.1" y1="612.22" x2="48.6" y2="612.22" stroke="#777" stroke-width="0.7" />
<line x1="312.2" y1="612.22" x2="315.7" y2="612.22" stroke="#777" stroke-width="0.7" />
<line x1="45.1" y1="596.94" x2="48.6" y2="596.94" stroke="#777" stroke-width="0.7" />
<line x1="312.2" y1="596.94" x2="315.7" y2="596.94" stroke="#777" stroke-width="0.7" />
<line x1="45.1" y1="583.46" x2="48.6" y2="583.46" stroke="#777" stroke-width="0.7" />
<line x1="312.2" y1="583.46" x2="315.7" y2="583.46" stroke="#777" stroke-width="0.7" />
<line x1="88.52" y1="834.9" x2="88.52" y2="838.9" stroke="#777" stroke-width="0.7" />
<line x1="88.52" y1="571.4" x2="88.52" y2="567.4" stroke="#777" stroke-width="0.7" />
<line x1="119.48" y1="834.9" x2="119.48" y2="838.9" stroke="#777" stroke-width="0.7" />
<line x1="119.48" y1="571.4" x2="119.48" y2="567.4" stroke="#777" stroke-width="0.7" />
<line x1="144.78" y1="834.9" x2="144.78" y2="838.9" stroke="#777" stroke-width="0.7" />
<line x1="144.78" y1="571.4" x2="144.78" y2="567.4" stroke="#777" stroke-width="0.7" />
<line x1="166.17" y1="834.9" x2="166.17" y2="838.9" stroke="#777" stroke-width="0.7" />
<line x1="166.17" y1="571.4" x2="166.17" y2="567.4" stroke="#777" stroke-width="0.7" />
<line x1="184.7" y1="834.9" x2="184.7" y2="838.9" stroke="#777" stroke-width="0.7" />
<line x1="184.7" y1="571.4" x2="184.7" y2="567.4" stroke="#777" stroke-width="0.7" />
<line x1="201.04" y1="834.9" x2="201.04" y2="838.9" stroke="#777" stroke-width="0.7" />
<line x1="201.04" y1="571.4" x2="201.04" y2="567.4" stroke="#777" stroke-width="0.7" />
<line x1="311.84" y1="834.9" x2="311.84" y2="838.9" stroke="#777" stroke-width="0.7" />
<line x1="311.84" y1="571.4" x2="311.84" y2="567.4" stroke="#777" stroke-width="0.7" />
<line x1="215.66" y1="834.9" x2="215.66" y2="842.5" stroke="#d0d0d0" stroke-width="1.6" />
<line x1="215.66" y1="571.4" x2="215.66" y2="564" stroke="#d0d0d0" stroke-width="1.6" />
<text x="37.6" y="573.9" font-family="Liberation Sans" font-size="8.2" text-anchor="middle" fill="#111" >1</text>
<text x="34" y="838.1" font-family="Liberation Sans" font-size="8.4" text-anchor="middle" fill="#141414" >0.1</text>
<text x="42" y="757.98" font-family="Liberation Sans" font-size="6.5" text-anchor="middle" fill="#141414" >2</text>
<text x="42" y="711.58" font-family="Liberation Sans" font-size="6.5" text-anchor="middle" fill="#141414" >3</text>
<text x="42" y="678.66" font-family="Liberation Sans" font-size="6.5" text-anchor="middle" fill="#141414" >4</text>
<text x="42" y="653.12" font-family="Liberation Sans" font-size="6.5" text-anchor="middle" fill="#141414" >5</text>
<text x="42" y="632.26" font-family="Liberation Sans" font-size="6.5" text-anchor="middle" fill="#141414" >6</text>
<text x="42" y="614.62" font-family="Liberation Sans" font-size="6.5" text-anchor="middle" fill="#141414" >7</text>
<text x="42" y="599.34" font-family="Liberation Sans" font-size="6.5" text-anchor="middle" fill="#141414" >8</text>
<text x="42" y="585.86" font-family="Liberation Sans" font-size="6.5" text-anchor="middle" fill="#141414" >9</text>
<text x="48.6" y="845.6" font-family="Liberation Sans" font-size="6.3" text-anchor="middle" fill="#141414" >3</text>
<text x="88.52" y="845.6" font-family="Liberation Sans" font-size="6.3" text-anchor="middle" fill="#141414" >4</text>
<text x="119.48" y="845.6" font-family="Liberation Sans" font-size="6.3" text-anchor="middle" fill="#141414" >5</text>
<text x="144.78" y="845.6" font-family="Liberation Sans" font-size="6.3" text-anchor="middle" fill="#141414" >6</text>
<text x="166.17" y="845.6" font-family="Liberation Sans" font-size="6.3" text-anchor="middle" fill="#141414" >7</text>
<text x="184.7" y="845.6" font-family="Liberation Sans" font-size="6.3" text-anchor="middle" fill="#141414" >8</text>
<text x="201.04" y="845.6" font-family="Liberation Sans" font-size="6.3" text-anchor="middle" fill="#141414" >9</text>
<text x="311.84" y="845.6" font-family="Liberation Sans" font-size="6.3" text-anchor="middle" fill="#141414" >2</text>
<text x="216.3" y="852.8" font-family="Liberation Sans" font-size="8" text-anchor="middle" fill="#141414" >100</text>
<text transform="translate(165.3,862.8) scale(0.9,1)" font-family="Liberation Sans" font-size="10" fill="#141414">D<tspan font-size="7" dy="1.8">Crit</tspan><tspan dy="-1.8"> [nm]</tspan></text>
<text transform="translate(19.8,704.3) rotate(-90) scale(0.87,1)" font-family="Liberation Sans" font-size="13" text-anchor="middle" fill="#141414">S<tspan font-size="8.5" dy="2.4">eff</tspan><tspan dy="-2.4"> [%]</tspan></text>
<text x="240.4" y="583" font-family="Liberation Sans" font-size="9.5" text-anchor="middle" fill="#141414" >(d)</text>
<line x1="122.21" y1="571.4" x2="312.2" y2="804.14" stroke="#48b088" stroke-width="0.8" stroke-dasharray="10 9.7" stroke-dashoffset="5.15"/>
<line x1="48.6" y1="580.86" x2="255.98" y2="834.9" stroke="#f07a86" stroke-width="0.8" stroke-dasharray="10 9.7" stroke-dashoffset="1.83"/>
<line x1="48.6" y1="616.49" x2="226.89" y2="834.9" stroke="#7a90e0" stroke-width="0.8" stroke-dasharray="10 9.7" stroke-dashoffset="7.68"/>
<rect x="274.1" y="653.8" width="10.8" height="21.1" fill="#8c1f72"/>
<rect x="274.1" y="648.85" width="10.8" height="5.25" fill="#4a3a90"/>
<rect x="274.1" y="639.12" width="10.8" height="10.03" fill="#5a4e9e"/>
<rect x="274.1" y="634.41" width="10.8" height="5.01" fill="#3060b0"/>
<rect x="274.1" y="629.7" width="10.8" height="5.01" fill="#2a90d2"/>
<rect x="274.1" y="624.67" width="10.8" height="5.32" fill="#48b8d6"/>
<rect x="274.1" y="619.65" width="10.8" height="5.32" fill="#5ab482"/>
<rect x="274.1" y="614.94" width="10.8" height="5.01" fill="#58b462"/>
<rect x="274.1" y="610.07" width="10.8" height="5.17" fill="#88c058"/>
<rect x="274.1" y="604.74" width="10.8" height="5.64" fill="#e6e23a"/>
<rect x="274.1" y="600.02" width="10.8" height="5.01" fill="#f6a22c"/>
<rect x="274.1" y="594.69" width="10.8" height="5.64" fill="#ee6232"/>
<rect x="274.1" y="589.98" width="10.8" height="5.01" fill="#ee7a52"/>
<rect x="274.1" y="585.42" width="10.8" height="4.85" fill="#d41e3a"/>
<rect x="274.1" y="580.4" width="10.8" height="5.32" fill="#e8202e"/>
<line x1="284.9" y1="674.6" x2="287.3" y2="674.6" stroke="#666" stroke-width="0.6" />
<line x1="284.9" y1="666.75" x2="286.7" y2="666.75" stroke="#666" stroke-width="0.6" />
<line x1="284.9" y1="658.9" x2="286.7" y2="658.9" stroke="#666" stroke-width="0.6" />
<line x1="284.9" y1="651.05" x2="286.7" y2="651.05" stroke="#666" stroke-width="0.6" />
<line x1="284.9" y1="643.2" x2="287.3" y2="643.2" stroke="#666" stroke-width="0.6" />
<line x1="284.9" y1="635.35" x2="286.7" y2="635.35" stroke="#666" stroke-width="0.6" />
<line x1="284.9" y1="627.5" x2="286.7" y2="627.5" stroke="#666" stroke-width="0.6" />
<line x1="284.9" y1="619.65" x2="286.7" y2="619.65" stroke="#666" stroke-width="0.6" />
<line x1="284.9" y1="611.8" x2="287.3" y2="611.8" stroke="#666" stroke-width="0.6" />
<line x1="284.9" y1="603.95" x2="286.7" y2="603.95" stroke="#666" stroke-width="0.6" />
<line x1="284.9" y1="596.1" x2="286.7" y2="596.1" stroke="#666" stroke-width="0.6" />
<line x1="284.9" y1="588.25" x2="286.7" y2="588.25" stroke="#666" stroke-width="0.6" />
<line x1="284.9" y1="580.4" x2="287.3" y2="580.4" stroke="#666" stroke-width="0.6" />
<text x="289.6" y="677.6" font-family="Liberation Sans" font-size="8.5" text-anchor="start" fill="#141414" >0</text>
<text x="289.6" y="646.2" font-family="Liberation Sans" font-size="8.5" text-anchor="start" fill="#141414" >0.2</text>
<text x="289.6" y="614.8" font-family="Liberation Sans" font-size="8.5" text-anchor="start" fill="#141414" >0.4</text>
<text x="289.6" y="583.4" font-family="Liberation Sans" font-size="8.5" text-anchor="start" fill="#141414" >0.6</text>
<text x="280.3" y="688.3" font-family="Liberation Sans" font-size="8.5" text-anchor="middle" fill="#141414" >κ</text>
<line x1="271.3" y1="694.3" x2="306.6" y2="694.3" stroke="#777" stroke-width="0.9" />
<rect x="95.1" y="594" width="8.6" height="8.6" fill="#58b070"/>
<rect x="114.2" y="594.6" width="8.6" height="8.6" fill="#3060b0"/>
<circle cx="137.7" cy="598.3" r="4.5" fill="#5a4e9e"/>
<circle cx="144.5" cy="598.3" r="4.5" fill="#5a4e9e"/>
<rect x="127.85" y="616.35" width="8.5" height="8.5" fill="#2a90d2"/>
<rect x="137.75" y="616.35" width="8.5" height="8.5" fill="#3060b0"/>
<rect x="141.05" y="616.35" width="8.5" height="8.5" fill="#5a4e9e"/>
<circle cx="155.4" cy="620.5" r="4.7" fill="#5a4e9e"/>
<rect x="139.2" y="643.6" width="8.6" height="8.6" fill="#48b8d6"/>
<rect x="162.2" y="643.6" width="8.6" height="8.6" fill="#3060b0"/>
<rect x="170.7" y="643.6" width="8.6" height="8.6" fill="#5a4e9e"/>
<circle cx="179.5" cy="647.9" r="4.4" fill="#5a4e9e"/>
<rect x="161.2" y="694.5" width="8.8" height="8.8" fill="#e6e23a"/>
<rect x="175.2" y="693.1" width="8.8" height="8.8" fill="#58b070"/>
<circle cx="192.3" cy="698.7" r="4.5" fill="#2a90d2"/>
<circle cx="199.3" cy="697.3" r="4.5" fill="#3060b0"/>
<rect x="196.3" y="694.1" width="8.8" height="8.8" fill="#3060b0"/>
<rect x="205.9" y="694.1" width="8.8" height="8.8" fill="#5a4e9e"/>
<circle cx="213.7" cy="697.7" r="4.5" fill="#5a4e9e"/>
<circle cx="210.7" cy="717.4" r="4.5" fill="#2a90d2"/>
<rect x="193.1" y="710.8" width="8.8" height="8.8" fill="#48b8d6"/>
<rect x="201.1" y="710.8" width="8.8" height="8.8" fill="#2a90d2"/>
<rect x="209.5" y="710.7" width="8.8" height="8.8" fill="#3060b0"/>
<rect x="219.3" y="710.7" width="8.8" height="8.8" fill="#5a4e9e"/>
<rect x="230.1" y="755.1" width="8.8" height="8.8" fill="#48b8d6"/>
<circle cx="243.3" cy="758.7" r="4.5" fill="#2a90d2"/>
<rect x="240.9" y="756.2" width="8.8" height="8.8" fill="#2a90d2"/>
<rect x="219.1" y="785.3" width="8.8" height="8.8" fill="#d41e3a"/>
<rect x="254.6" y="788.3" width="8.8" height="8.8" fill="#48b8d6"/>
<rect x="260.8" y="786.8" width="8.8" height="8.8" fill="#2a90d2"/>
<circle cx="270.7" cy="789.6" r="4.5" fill="#2a90d2"/>
<line x1="52.8" y1="770.3" x2="62.4" y2="770.3" stroke="#48b088" stroke-width="0.8" />
<line x1="52.8" y1="781.6" x2="62.4" y2="781.6" stroke="#f07a86" stroke-width="0.8" />
<line x1="52.8" y1="795.3" x2="62.4" y2="795.3" stroke="#7a90e0" stroke-width="0.8" />
<text x="71.6" y="773.2" font-family="Liberation Sans" font-size="8.2" text-anchor="start" fill="#141414" >Organics</text>
<text x="110.2" y="773.8" font-family="Liberation Sans" font-size="10.3" text-anchor="start" fill="#141414" >(κ=0.1)</text>
<text x="76.5" y="785.2" font-family="Liberation Sans" font-size="10.3" fill="#141414">(NH<tspan font-size="7" dy="2">4</tspan><tspan dy="-2">)</tspan><tspan font-size="7" dy="2">2</tspan><tspan dy="-2">SO</tspan><tspan font-size="7" dy="2">4</tspan><tspan dy="-2"> (κ=0.6)</tspan></text>
<text x="76.5" y="798.9" font-family="Liberation Sans" font-size="10.3" text-anchor="start" fill="#141414" >NaCl (κ=1.12)</text>
<circle cx="57.9" cy="805.7" r="2.2" fill="#e06070"/>
<rect x="55.7" y="815.8" width="4.4" height="4.4" fill="#5a78c4"/>
<text x="76.5" y="809.5" font-family="Liberation Sans" font-size="10.3" text-anchor="start" fill="#141414" >00:00 to 08:00</text>
<text x="146.2" y="810" font-family="Liberation Serif" font-size="10" text-anchor="start" fill="#141414" >LT</text>
<text x="76.5" y="821.6" font-family="Liberation Sans" font-size="10.3" text-anchor="start" fill="#141414" >08:00 to 18:00</text>
<text x="146.2" y="822.1" font-family="Liberation Serif" font-size="10" text-anchor="start" fill="#141414" >LT</text>
<line x1="49" y1="826.1" x2="163.1" y2="826.1" stroke="#111" stroke-width="1.4" />
<line x1="394.4" y1="567.4" x2="394.4" y2="835.2" stroke="#d0d0d0" stroke-width="1.7" />
<line x1="387.4" y1="571.4" x2="658.5" y2="571.4" stroke="#777" stroke-width="0.9" />
<line x1="651.5" y1="567.4" x2="651.5" y2="835.2" stroke="#888" stroke-width="0.9" />
<line x1="387.4" y1="835.2" x2="658.5" y2="835.2" stroke="#777" stroke-width="0.9" />
<line x1="387.4" y1="835.2" x2="394.4" y2="835.2" stroke="#666" stroke-width="0.8" />
<line x1="651.5" y1="835.2" x2="658.5" y2="835.2" stroke="#666" stroke-width="0.8" />
<line x1="390.9" y1="818.71" x2="394.4" y2="818.71" stroke="#999" stroke-width="0.7" />
<line x1="651.5" y1="818.71" x2="654.7" y2="818.71" stroke="#999" stroke-width="0.7" />
<line x1="388.9" y1="802.23" x2="394.4" y2="802.23" stroke="#666" stroke-width="0.7" />
<line x1="651.5" y1="802.23" x2="656.8" y2="802.23" stroke="#666" stroke-width="0.8" />
<line x1="390.9" y1="785.74" x2="394.4" y2="785.74" stroke="#999" stroke-width="0.7" />
<line x1="651.5" y1="785.74" x2="654.7" y2="785.74" stroke="#999" stroke-width="0.7" />
<line x1="387.4" y1="769.25" x2="394.4" y2="769.25" stroke="#666" stroke-width="0.8" />
<line x1="651.5" y1="769.25" x2="658.5" y2="769.25" stroke="#666" stroke-width="0.8" />
<line x1="390.9" y1="752.76" x2="394.4" y2="752.76" stroke="#999" stroke-width="0.7" />
<line x1="651.5" y1="752.76" x2="654.7" y2="752.76" stroke="#999" stroke-width="0.7" />
<line x1="388.9" y1="736.27" x2="394.4" y2="736.27" stroke="#666" stroke-width="0.7" />
<line x1="651.5" y1="736.27" x2="656.8" y2="736.27" stroke="#666" stroke-width="0.8" />
<line x1="390.9" y1="719.79" x2="394.4" y2="719.79" stroke="#999" stroke-width="0.7" />
<line x1="651.5" y1="719.79" x2="654.7" y2="719.79" stroke="#999" stroke-width="0.7" />
<line x1="387.4" y1="703.3" x2="394.4" y2="703.3" stroke="#666" stroke-width="0.8" />
<line x1="651.5" y1="703.3" x2="658.5" y2="703.3" stroke="#666" stroke-width="0.8" />
<line x1="390.9" y1="686.81" x2="394.4" y2="686.81" stroke="#999" stroke-width="0.7" />
<line x1="651.5" y1="686.81" x2="654.7" y2="686.81" stroke="#999" stroke-width="0.7" />
<line x1="388.9" y1="670.32" x2="394.4" y2="670.32" stroke="#666" stroke-width="0.7" />
<line x1="651.5" y1="670.32" x2="656.8" y2="670.32" stroke="#666" stroke-width="0.8" />
<line x1="390.9" y1="653.84" x2="394.4" y2="653.84" stroke="#999" stroke-width="0.7" />
<line x1="651.5" y1="653.84" x2="654.7" y2="653.84" stroke="#999" stroke-width="0.7" />
<line x1="387.4" y1="637.35" x2="394.4" y2="637.35" stroke="#666" stroke-width="0.8" />
<line x1="651.5" y1="637.35" x2="658.5" y2="637.35" stroke="#666" stroke-width="0.8" />
<line x1="390.9" y1="620.86" x2="394.4" y2="620.86" stroke="#999" stroke-width="0.7" />
<line x1="651.5" y1="620.86" x2="654.7" y2="620.86" stroke="#999" stroke-width="0.7" />
<line x1="388.9" y1="604.37" x2="394.4" y2="604.37" stroke="#666" stroke-width="0.7" />
<line x1="651.5" y1="604.37" x2="656.8" y2="604.37" stroke="#666" stroke-width="0.8" />
<line x1="390.9" y1="587.89" x2="394.4" y2="587.89" stroke="#999" stroke-width="0.7" />
<line x1="651.5" y1="587.89" x2="654.7" y2="587.89" stroke="#999" stroke-width="0.7" />
<line x1="387.4" y1="571.4" x2="394.4" y2="571.4" stroke="#666" stroke-width="0.8" />
<line x1="651.5" y1="571.4" x2="658.5" y2="571.4" stroke="#666" stroke-width="0.8" />
<text x="377.5" y="838.4" font-family="Liberation Sans" font-size="8.6" text-anchor="middle" fill="#141414" >0.2</text>
<text x="377.5" y="772.45" font-family="Liberation Sans" font-size="8.6" text-anchor="middle" fill="#141414" >0.3</text>
<text x="377.5" y="706.5" font-family="Liberation Sans" font-size="8.6" text-anchor="middle" fill="#141414" >0.4</text>
<text x="377.5" y="640.55" font-family="Liberation Sans" font-size="8.6" text-anchor="middle" fill="#141414" >0.5</text>
<text x="377.5" y="574.6" font-family="Liberation Sans" font-size="8.6" text-anchor="middle" fill="#141414" >0.6</text>
<line x1="394.4" y1="835.2" x2="394.4" y2="838.2" stroke="#777" stroke-width="0.7" />
<line x1="394.4" y1="571.4" x2="394.4" y2="568.4" stroke="#777" stroke-width="0.7" />
<text x="394.4" y="845.6" font-family="Liberation Sans" font-size="5.6" text-anchor="middle" fill="#141414" >2</text>
<line x1="439.39" y1="835.2" x2="439.39" y2="838.2" stroke="#777" stroke-width="0.7" />
<line x1="439.39" y1="571.4" x2="439.39" y2="568.4" stroke="#777" stroke-width="0.7" />
<text x="439.39" y="845.6" font-family="Liberation Sans" font-size="5.6" text-anchor="middle" fill="#141414" >3</text>
<line x1="471.31" y1="835.2" x2="471.31" y2="838.2" stroke="#777" stroke-width="0.7" />
<line x1="471.31" y1="571.4" x2="471.31" y2="568.4" stroke="#777" stroke-width="0.7" />
<text x="471.31" y="845.6" font-family="Liberation Sans" font-size="5.6" text-anchor="middle" fill="#141414" >4</text>
<line x1="496.07" y1="835.2" x2="496.07" y2="838.2" stroke="#777" stroke-width="0.7" />
<line x1="496.07" y1="571.4" x2="496.07" y2="568.4" stroke="#777" stroke-width="0.7" />
<text x="496.07" y="845.6" font-family="Liberation Sans" font-size="5.6" text-anchor="middle" fill="#141414" >5</text>
<line x1="516.3" y1="835.2" x2="516.3" y2="838.2" stroke="#777" stroke-width="0.7" />
<line x1="516.3" y1="571.4" x2="516.3" y2="568.4" stroke="#777" stroke-width="0.7" />
<text x="516.3" y="845.6" font-family="Liberation Sans" font-size="5.6" text-anchor="middle" fill="#141414" >6</text>
<line x1="533.41" y1="835.2" x2="533.41" y2="838.2" stroke="#777" stroke-width="0.7" />
<line x1="533.41" y1="571.4" x2="533.41" y2="568.4" stroke="#777" stroke-width="0.7" />
<text x="533.41" y="845.6" font-family="Liberation Sans" font-size="5.6" text-anchor="middle" fill="#141414" >7</text>
<line x1="548.23" y1="835.2" x2="548.23" y2="838.2" stroke="#777" stroke-width="0.7" />
<line x1="548.23" y1="571.4" x2="548.23" y2="568.4" stroke="#777" stroke-width="0.7" />
<text x="548.23" y="845.6" font-family="Liberation Sans" font-size="5.6" text-anchor="middle" fill="#141414" >8</text>
<line x1="561.3" y1="835.2" x2="561.3" y2="838.2" stroke="#777" stroke-width="0.7" />
<line x1="561.3" y1="571.4" x2="561.3" y2="568.4" stroke="#777" stroke-width="0.7" />
<text x="561.3" y="845.6" font-family="Liberation Sans" font-size="5.6" text-anchor="middle" fill="#141414" >9</text>
<line x1="649.9" y1="835.2" x2="649.9" y2="838.2" stroke="#777" stroke-width="0.7" />
<line x1="649.9" y1="571.4" x2="649.9" y2="568.4" stroke="#777" stroke-width="0.7" />
<text x="649.9" y="845.6" font-family="Liberation Sans" font-size="5.6" text-anchor="middle" fill="#141414" >2</text>
<line x1="572.99" y1="835.2" x2="572.99" y2="840.2" stroke="#777" stroke-width="0.8" />
<line x1="572.99" y1="571.4" x2="572.99" y2="563.8" stroke="#777" stroke-width="0.8" />
<text x="574.2" y="852.8" font-family="Liberation Sans" font-size="8" text-anchor="middle" fill="#141414" >100</text>
<text x="505.5" y="862.6" font-family="Liberation Sans" font-size="9.6" text-anchor="middle" fill="#222" textLength="125.5" lengthAdjust="spacingAndGlyphs">Geometric median diameter [nm]</text>
<text transform="translate(367.2,700.7) rotate(-90)" font-family="Liberation Serif" font-weight="bold" font-size="10" text-anchor="middle" fill="#141414">Sulfate Fraction</text>
<text x="639.5" y="584.2" font-family="Liberation Sans" font-size="10" text-anchor="middle" fill="#141414" >(e)</text>
<path d="M466.4 778.5 L472 775.5 L478.5 772.3 L489.4 768.3 L501.5 762.4 L513.5 755.8 L524.4 749.3 L535.4 741.6 L546.3 733.9 L556.2 725.2 L566 716.4 L574.5 708.3 L583.6 698.7 L592.8 688.2 L601.4 678.3 L609.3 667.8 L617.8 655.3 L627 640.9" fill="none" stroke="#e8707c" stroke-width="0.8" stroke-linejoin="round" stroke-dasharray="6 5.5"/>
<rect x="460.5" y="776.2" width="5.2" height="5.2" fill="#e2606c" fill-opacity="0.85" stroke="#dc4a5a" stroke-opacity="0.8" stroke-width="0.5"/>
<rect x="470.4" y="764.6" width="5.2" height="5.2" fill="#e2606c" fill-opacity="0.85" stroke="#dc4a5a" stroke-opacity="0.8" stroke-width="0.5"/>
<rect x="487.3" y="755.4" width="5.2" height="5.2" fill="#e2606c" fill-opacity="0.85" stroke="#dc4a5a" stroke-opacity="0.8" stroke-width="0.5"/>
<rect x="498" y="750" width="5.2" height="5.2" fill="#e2606c" fill-opacity="0.85" stroke="#dc4a5a" stroke-opacity="0.8" stroke-width="0.5"/>
<rect x="504.5" y="739.9" width="5.2" height="5.2" fill="#e2606c" fill-opacity="0.85" stroke="#dc4a5a" stroke-opacity="0.8" stroke-width="0.5"/>
<rect x="513.1" y="734.2" width="5.2" height="5.2" fill="#e2606c" fill-opacity="0.85" stroke="#dc4a5a" stroke-opacity="0.8" stroke-width="0.5"/>
<rect x="515.5" y="736.2" width="5.2" height="5.2" fill="#e2606c" fill-opacity="0.85" stroke="#dc4a5a" stroke-opacity="0.8" stroke-width="0.5"/>
<rect x="522.3" y="721" width="5.2" height="5.2" fill="#e2606c" fill-opacity="0.85" stroke="#dc4a5a" stroke-opacity="0.8" stroke-width="0.5"/>
<rect x="540.7" y="710.3" width="5.2" height="5.2" fill="#e2606c" fill-opacity="0.85" stroke="#dc4a5a" stroke-opacity="0.8" stroke-width="0.5"/>
<rect x="513.3" y="759.8" width="5.2" height="5.2" fill="#e2606c" fill-opacity="0.85" stroke="#dc4a5a" stroke-opacity="0.8" stroke-width="0.5"/>
<rect x="511.3" y="788.9" width="5.2" height="5.2" fill="#e2606c" fill-opacity="0.85" stroke="#dc4a5a" stroke-opacity="0.8" stroke-width="0.5"/>
<rect x="558.4" y="736.8" width="5.2" height="5.2" fill="#e2606c" fill-opacity="0.85" stroke="#dc4a5a" stroke-opacity="0.8" stroke-width="0.5"/>
<rect x="570" y="745.6" width="5.2" height="5.2" fill="#e2606c" fill-opacity="0.85" stroke="#dc4a5a" stroke-opacity="0.8" stroke-width="0.5"/>
<rect x="575.5" y="746.2" width="5.2" height="5.2" fill="#e2606c" fill-opacity="0.85" stroke="#dc4a5a" stroke-opacity="0.8" stroke-width="0.5"/>
<rect x="572.9" y="735.7" width="5.2" height="5.2" fill="#e2606c" fill-opacity="0.85" stroke="#dc4a5a" stroke-opacity="0.8" stroke-width="0.5"/>
<rect x="574.4" y="734.6" width="5.2" height="5.2" fill="#e2606c" fill-opacity="0.85" stroke="#dc4a5a" stroke-opacity="0.8" stroke-width="0.5"/>
<rect x="579.4" y="727.2" width="5.2" height="5.2" fill="#e2606c" fill-opacity="0.85" stroke="#dc4a5a" stroke-opacity="0.8" stroke-width="0.5"/>
<rect x="618.5" y="616.3" width="5.2" height="5.2" fill="#e2606c" fill-opacity="0.85" stroke="#dc4a5a" stroke-opacity="0.8" stroke-width="0.5"/>
<rect x="618.1" y="624.2" width="5.2" height="5.2" fill="#e2606c" fill-opacity="0.85" stroke="#dc4a5a" stroke-opacity="0.8" stroke-width="0.5"/>
<rect x="621.5" y="628.4" width="5.2" height="5.2" fill="#e2606c" fill-opacity="0.85" stroke="#dc4a5a" stroke-opacity="0.8" stroke-width="0.5"/>
<rect x="624.4" y="627.1" width="5.2" height="5.2" fill="#e2606c" fill-opacity="0.85" stroke="#dc4a5a" stroke-opacity="0.8" stroke-width="0.5"/>
<rect x="629.9" y="629.1" width="5.2" height="5.2" fill="#e2606c" fill-opacity="0.85" stroke="#dc4a5a" stroke-opacity="0.8" stroke-width="0.5"/>
<rect x="608" y="628.2" width="5.2" height="5.2" fill="#e2606c" fill-opacity="0.85" stroke="#dc4a5a" stroke-opacity="0.8" stroke-width="0.5"/>
<rect x="614.6" y="637.4" width="5.2" height="5.2" fill="#e2606c" fill-opacity="0.85" stroke="#dc4a5a" stroke-opacity="0.8" stroke-width="0.5"/>
<rect x="607.1" y="638.9" width="5.2" height="5.2" fill="#e2606c" fill-opacity="0.85" stroke="#dc4a5a" stroke-opacity="0.8" stroke-width="0.5"/>
<rect x="628.4" y="640.9" width="5.2" height="5.2" fill="#e2606c" fill-opacity="0.85" stroke="#dc4a5a" stroke-opacity="0.8" stroke-width="0.5"/>
<rect x="602.7" y="645.8" width="5.2" height="5.2" fill="#e2606c" fill-opacity="0.85" stroke="#dc4a5a" stroke-opacity="0.8" stroke-width="0.5"/>
<rect x="598.8" y="648.4" width="5.2" height="5.2" fill="#e2606c" fill-opacity="0.85" stroke="#dc4a5a" stroke-opacity="0.8" stroke-width="0.5"/>
<rect x="610" y="647.9" width="5.2" height="5.2" fill="#e2606c" fill-opacity="0.85" stroke="#dc4a5a" stroke-opacity="0.8" stroke-width="0.5"/>
<rect x="621.8" y="647.2" width="5.2" height="5.2" fill="#e2606c" fill-opacity="0.85" stroke="#dc4a5a" stroke-opacity="0.8" stroke-width="0.5"/>
<rect x="625.1" y="646.8" width="5.2" height="5.2" fill="#e2606c" fill-opacity="0.85" stroke="#dc4a5a" stroke-opacity="0.8" stroke-width="0.5"/>
<rect x="630.3" y="648.8" width="5.2" height="5.2" fill="#e2606c" fill-opacity="0.85" stroke="#dc4a5a" stroke-opacity="0.8" stroke-width="0.5"/>
<rect x="618.5" y="656" width="5.2" height="5.2" fill="#e2606c" fill-opacity="0.85" stroke="#dc4a5a" stroke-opacity="0.8" stroke-width="0.5"/>
<rect x="601.4" y="657.7" width="5.2" height="5.2" fill="#e2606c" fill-opacity="0.85" stroke="#dc4a5a" stroke-opacity="0.8" stroke-width="0.5"/>
<rect x="614.9" y="662.3" width="5.2" height="5.2" fill="#e2606c" fill-opacity="0.85" stroke="#dc4a5a" stroke-opacity="0.8" stroke-width="0.5"/>
<rect x="601" y="665.9" width="5.2" height="5.2" fill="#e2606c" fill-opacity="0.85" stroke="#dc4a5a" stroke-opacity="0.8" stroke-width="0.5"/>
<rect x="596.2" y="675.1" width="5.2" height="5.2" fill="#e2606c" fill-opacity="0.85" stroke="#dc4a5a" stroke-opacity="0.8" stroke-width="0.5"/>
<rect x="599.7" y="674.7" width="5.2" height="5.2" fill="#e2606c" fill-opacity="0.85" stroke="#dc4a5a" stroke-opacity="0.8" stroke-width="0.5"/>
<rect x="606.3" y="680.1" width="5.2" height="5.2" fill="#e2606c" fill-opacity="0.85" stroke="#dc4a5a" stroke-opacity="0.8" stroke-width="0.5"/>
<rect x="583" y="688.6" width="5.2" height="5.2" fill="#e2606c" fill-opacity="0.85" stroke="#dc4a5a" stroke-opacity="0.8" stroke-width="0.5"/>
<rect x="611" y="688.2" width="5.2" height="5.2" fill="#e2606c" fill-opacity="0.85" stroke="#dc4a5a" stroke-opacity="0.8" stroke-width="0.5"/>
<rect x="591.3" y="696.2" width="5.2" height="5.2" fill="#e2606c" fill-opacity="0.85" stroke="#dc4a5a" stroke-opacity="0.8" stroke-width="0.5"/>
<rect x="599.2" y="698.1" width="5.2" height="5.2" fill="#e2606c" fill-opacity="0.85" stroke="#dc4a5a" stroke-opacity="0.8" stroke-width="0.5"/>
<rect x="413.2" y="588.8" width="4.4" height="4.4" fill="#e0505e" fill-opacity="0.8"/>
<text x="424.7" y="594" font-family="Liberation Sans" font-size="8" text-anchor="start" fill="#141414" >NPF Event</text>
</svg>
</body></html>
